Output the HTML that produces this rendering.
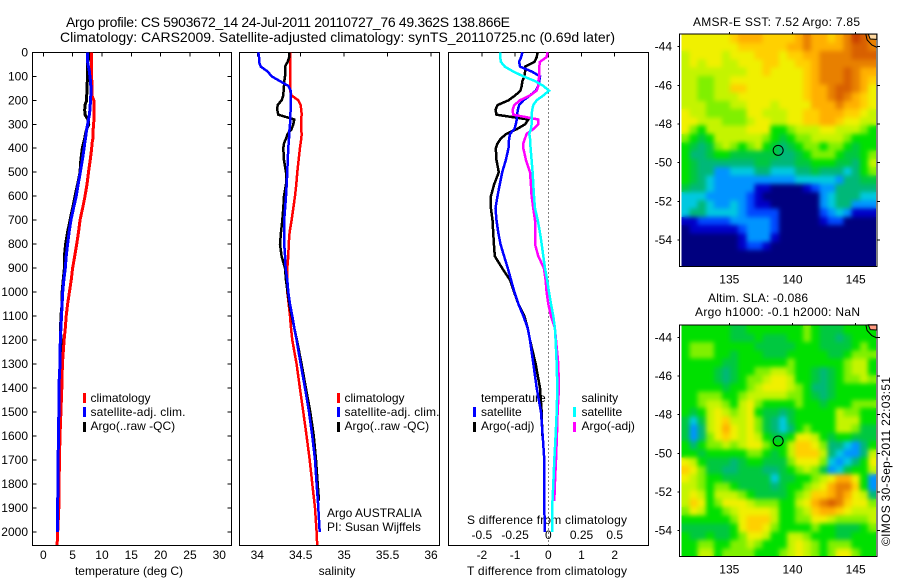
<!DOCTYPE html>
<html>
<head>
<meta charset="utf-8">
<title>Argo profile</title>
<style>
html,body{margin:0;padding:0;background:#fff;}
svg{display:block;font-family:"Liberation Sans",sans-serif;fill:#000;}
text{font-size:12px;}
</style>
</head>
<body>
<svg id="chart" width="900" height="580" viewBox="0 0 900 580" xmlns="http://www.w3.org/2000/svg">
<defs>
<filter id="soften" filterUnits="userSpaceOnUse" x="670" y="20" width="220" height="550" color-interpolation-filters="sRGB">
<feGaussianBlur in="SourceGraphic" stdDeviation="2.4" result="b"/>
<feMerge><feMergeNode in="SourceGraphic"/><feMergeNode in="b"/></feMerge>
</filter>
</defs>
<rect width="900" height="580" fill="#fff"/>
<text x="66" y="27" style="font-size:14px" textLength="444" lengthAdjust="spacing">Argo profile: CS 5903672_14 24-Jul-2011 20110727_76 49.362S 138.866E</text>
<text x="60" y="42" style="font-size:14px" textLength="555" lengthAdjust="spacing">Climatology: CARS2009. Satellite-adjusted climatology: synTS_20110725.nc (0.69d later)</text>
<text x="129" y="575" text-anchor="middle">temperature (deg C)</text>
<text x="337" y="575" text-anchor="middle">salinity</text>
<text x="467" y="575" textLength="160" lengthAdjust="spacing">T difference from climatology</text>
<text x="467" y="524" textLength="160" lengthAdjust="spacing">S difference from climatology</text>
<text x="327" y="517">Argo AUSTRALIA</text>
<text x="327" y="531">PI: Susan Wijffels</text>
<text x="693" y="26" textLength="167" lengthAdjust="spacing">AMSR-E SST: 7.52 Argo: 7.85</text>
<text x="708" y="302" textLength="100" lengthAdjust="spacing">Altim. SLA: -0.086</text>
<text x="695" y="316" textLength="165" lengthAdjust="spacing">Argo h1000: -0.1 h2000: NaN</text>
<text transform="translate(890,546) rotate(-90)" textLength="169" lengthAdjust="spacing">©IMOS 30-Sep-2011 22:03:51</text>
<g id="legend-1">
<rect x="83" y="393" width="3" height="10" fill="#f00"/>
<rect x="83" y="407" width="3" height="10" fill="#00f"/>
<rect x="83" y="422" width="3" height="10" fill="#000"/>
<text x="90.5" y="402">climatology</text>
<text x="90.5" y="416" textLength="95" lengthAdjust="spacing">satellite-adj. clim.</text>
<text x="90.5" y="430">Argo(..raw -QC)</text>
</g>
<g id="legend-2">
<rect x="337" y="393" width="3" height="10" fill="#f00"/>
<rect x="337" y="407" width="3" height="10" fill="#00f"/>
<rect x="337" y="422" width="3" height="10" fill="#000"/>
<text x="344.5" y="402">climatology</text>
<text x="344.5" y="416" textLength="95" lengthAdjust="spacing">satellite-adj. clim.</text>
<text x="344.5" y="430">Argo(..raw -QC)</text>
</g>
<g id="legend-3">
<text x="481" y="402">temperature</text>
<text x="581.5" y="402">salinity</text>
<rect x="473" y="407" width="3" height="10" fill="#00f"/>
<rect x="473" y="422" width="3" height="10" fill="#000"/>
<rect x="573" y="407" width="3" height="10" fill="#0ff"/>
<rect x="573" y="422" width="3" height="10" fill="#f0f"/>
<text x="481" y="416">satellite</text>
<text x="481" y="430">Argo(-adj)</text>
<text x="581.5" y="416">satellite</text>
<text x="581.5" y="430">Argo(-adj)</text>
</g>
</svg>
<script>
const depths = [0,20,40,60,80,100,120,140,160,180,200,220,240,260,280,300,320,340,360,380,400,450,500,550,600,650,700,750,800,850,900,950,1000,1050,1100,1150,1200,1300,1400,1500,1600,1700,1800,1870,1900,2000,2055];

const tempClim = [8.24,8.24,8.24,8.24,8.24,8.24,8.26,8.26,8.28,8.3,8.6,8.65,8.65,8.65,8.65,8.55,8.5,8.5,8.45,8.3,8.25,8.0,7.7,7.45,7.1,6.7,6.25,6.0,5.7,5.35,5.0,4.75,4.45,4.15,3.9,3.75,3.55,3.25,3.15,3.0,2.85,2.75,2.7,2.67,2.65,2.45,2.35];
const tempSat = [7.55,7.55,7.55,7.7,7.85,7.95,8.05,8.1,8.1,8.1,8.05,8.0,7.95,7.85,7.7,7.55,7.4,7.3,7.2,7.05,6.95,6.65,6.3,5.95,5.6,5.15,4.7,4.4,4.15,3.9,3.75,3.5,3.3,3.2,3.1,3.0,2.9,2.85,2.65,2.65,2.6,2.5,2.5,2.45,2.4,2.4,null];
const tempArgo = [8.0,7.85,7.55,7.5,7.5,7.5,7.5,7.45,7.45,7.4,7.4,7.1,7.05,7.1,7.6,7.75,7.4,7.2,7.05,6.85,6.65,6.4,6.25,5.85,5.4,5.0,4.55,4.15,3.8,3.6,3.6,3.4,3.2,3.2,3.0,2.95,3.0,2.9,2.9,2.9,null,null,null,null,null,null,null];

const salClim = [34.376,34.376,34.38,34.38,34.38,34.38,34.376,34.376,34.376,34.395,34.472,34.499,34.507,34.511,34.503,34.503,34.503,34.511,34.507,34.499,34.491,34.476,34.461,34.449,34.434,34.415,34.395,34.372,34.361,34.357,34.345,34.345,34.345,34.361,34.376,34.388,34.403,34.453,34.491,34.53,34.568,34.603,34.633,34.655,34.664,34.683,34.69];
const salSat = [34.012,34.02,34.02,34.04,34.12,34.165,34.26,34.357,34.384,34.388,34.384,34.384,34.384,34.38,34.376,34.376,34.372,34.365,34.365,34.36,34.357,34.35,34.345,34.338,34.33,34.32,34.31,34.31,34.31,34.32,34.326,34.345,34.357,34.376,34.403,34.426,34.453,34.5,34.549,34.595,34.633,34.664,34.683,34.698,34.702,34.718,null];
const salArgo = [34.369,34.369,34.349,34.319,34.319,34.319,34.311,34.307,34.303,34.299,34.28,34.234,34.23,34.242,34.426,34.415,34.395,34.349,34.33,34.307,34.299,34.307,34.33,34.33,34.307,34.299,34.288,34.273,34.261,34.28,34.319,34.33,34.349,34.369,34.396,34.426,34.456,34.51,34.56,34.61,34.65,34.676,34.695,34.71,null,null,null];

const diffTSat = [-0.78,-0.82,-0.88,-0.85,-0.5,-0.25,-0.27,-0.3,-0.38,-0.55,-0.75,-0.88,-0.92,-0.94,-0.95,-0.98,-1.02,-1.15,-1.18,-1.19,-1.2,-1.28,-1.39,-1.46,-1.53,-1.59,-1.56,-1.51,-1.44,-1.33,-1.22,-1.12,-1.02,-0.9,-0.75,-0.62,-0.55,-0.45,-0.35,-0.22,-0.17,-0.12,-0.12,-0.12,-0.12,-0.1,null];
const diffTArgo = [-0.32,-0.35,-0.42,-0.7,-0.7,-0.72,-0.78,-0.8,-0.84,-1.0,-1.2,-1.53,-1.59,-1.56,-0.6,-0.7,-0.95,-1.26,-1.43,-1.53,-1.58,-1.56,-1.49,-1.63,-1.73,-1.73,-1.68,-1.66,-1.64,-1.61,-1.39,-1.15,-1.03,-0.9,-0.72,-0.62,-0.55,-0.38,-0.25,-0.2,-0.18,null,null,null,null,null,null];
const diffSSat = [-0.364,-0.362,-0.357,-0.327,-0.264,-0.188,-0.1,-0.038,0.005,-0.038,-0.088,-0.113,-0.121,-0.126,-0.126,-0.126,-0.131,-0.143,-0.138,-0.136,-0.133,-0.126,-0.118,-0.113,-0.108,-0.1,-0.08,-0.063,-0.05,-0.038,-0.025,-0.008,0.005,0.02,0.038,0.05,0.055,0.063,0.068,0.063,0.055,0.045,0.038,0.032,0.03,0.03,null];
const diffSArgo = [-0.005,-0.013,-0.063,-0.068,-0.07,-0.068,-0.075,-0.075,-0.088,-0.138,-0.214,-0.256,-0.269,-0.264,-0.075,-0.075,-0.113,-0.163,-0.176,-0.188,-0.188,-0.168,-0.138,-0.131,-0.126,-0.113,-0.1,-0.1,-0.1,-0.075,-0.033,-0.02,-0.013,0,0.02,0.05,0.058,0.075,0.08,0.07,0.065,0.058,0.05,0.045,null,null,null];

const depthTicks = [0,100,200,300,400,500,600,700,800,900,1000,1100,1200,1300,1400,1500,1600,1700,1800,1900,2000];
const tempTicks = [0,5,10,15,20,25,30];
const salTicks = [34,34.5,35,35.5,36];
const salTickLabels = ["34","34.5","35","35.5","36"];
const diffTTicks = [-2,-1,0,1,2];
const diffSTicks = [-0.5,-0.25,0,0.25,0.5];
const diffSTickLabels = ["-0.5","-0.25","0","0.25","0.5"];
const lonTicks = [135,140,145];
const latTicks = [-44,-46,-48,-50,-52,-54];
const argoLon = [138.866];
const argoLat = [-49.362];
const coastLon = [145.8,145.9,146.27,146.67];
const coastLat = [-43.35,-43.65,-43.91,-44.03];
const landLon = [146.0,146.15,146.67,146.67];
const landLat = [-43.35,-43.6,-43.62,-43.35];

const sstGrid = [
[10,10,10,10,10,10,11,12,12,12,11,11,11,11,12,13,12,12,11,12,13,15,14,13],
[10,10,10,10,10,10,10,11,11,11,11,11,11,12,12,13,12,12,12,12,13,14,14,13],
[9,10,10,10,10,9,10,10,10,11,11,11,10,11,11,12,12,13,13,13,13,14,14,14],
[9,10,9,10,10,9,9,10,10,10,11,11,10,10,11,11,12,13,13,13,13,13,13,13],
[9,9,9,9,9,9,9,9,10,10,11,10,10,10,10,11,12,13,13,13,14,13,12,12],
[9,9,8,8,9,9,10,10,10,10,10,10,10,10,10,11,12,13,13,13,14,13,12,11],
[9,9,8,8,9,9,11,11,10,10,10,10,10,10,10,11,12,12,13,14,14,13,12,10],
[9,9,8,8,9,9,9,10,10,10,10,10,10,10,10,11,12,12,13,14,13,12,11,10],
[9,9,9,8,8,8,9,9,10,10,10,9,10,10,10,10,12,12,12,13,12,12,11,10],
[10,9,9,8,8,8,8,8,10,10,9,9,9,10,10,11,11,12,12,12,11,11,10,9],
[10,10,9,9,9,8,8,8,9,10,10,9,9,10,10,11,11,12,12,11,10,10,9,9],
[10,8,7,9,9,9,9,9,10,10,10,7,7,8,9,9,9,10,10,9,9,9,8,7],
[8,7,6,7,9,9,9,9,9,9,8,7,6,7,8,8,9,9,9,9,8,7,7,7],
[7,6,5,6,8,9,8,7,8,9,7,6,5,6,7,8,8,7,8,8,7,6,7,7],
[7,5,5,6,7,7,6,6,6,6,6,6,5,5,6,7,8,8,8,7,6,6,7,8],
[7,6,5,5,5,5,5,5,5,6,6,5,5,5,6,6,7,7,7,6,6,5,7,9],
[7,6,5,5,3,3,4,4,4,5,5,4,4,4,5,5,6,5,5,5,4,5,7,8],
[7,6,5,4,3,3,3,3,3,3,3,3,3,3,4,4,4,4,4,3,5,5,6,6],
[6,5,5,4,3,3,3,3,3,1,1,0,0,0,0,1,2,3,3,5,5,5,5,5],
[4,4,4,3,3,3,3,3,2,1,0,0,0,0,0,0,0,3,4,5,5,5,4,4],
[4,4,5,4,3,3,4,3,2,1,1,0,0,0,0,0,0,3,4,5,5,3,3,3],
[4,5,5,4,4,4,4,3,2,2,2,2,0,0,0,0,0,2,3,4,3,1,1,1],
[1,1,2,2,2,2,3,3,3,3,3,2,0,0,0,0,0,1,2,2,0,0,0,0],
[0,1,1,1,1,1,1,2,3,3,3,2,0,0,0,0,0,0,0,0,0,0,0,0],
[0,0,0,0,0,0,0,1,3,3,3,1,0,0,0,0,0,0,0,0,0,0,0,0],
[0,0,0,0,0,0,0,1,2,2,1,0,0,0,0,0,0,0,0,0,0,0,0,0],
[0,0,0,0,0,0,0,0,0,0,0,0,0,0,0,0,0,0,0,0,0,0,0,0],
[0,0,0,0,0,0,0,0,0,0,0,0,0,0,0,0,0,0,0,0,0,0,0,0]
];

const slaGrid = [
[7,7,7,7,7,7,6,6,7,7,7,7,7,7,7,8,7,6,6,6,7,7,7,7],
[7,7,7,7,7,7,6,6,6,7,6,6,6,7,7,8,7,6,6,5,6,7,7,7],
[7,8,8,8,7,7,7,7,7,6,6,6,6,6,7,7,7,6,6,6,6,7,8,7],
[7,8,8,8,7,7,6,7,7,7,6,6,6,7,7,7,7,7,6,6,7,8,8,8],
[7,7,7,7,7,6,6,7,7,7,7,7,7,8,7,7,7,7,7,7,8,9,9,7],
[7,7,7,7,6,5,6,7,7,8,8,9,9,8,7,7,6,5,6,7,8,9,9,7],
[7,7,7,7,6,5,6,7,8,8,9,10,10,9,7,7,6,5,6,7,8,8,9,8],
[7,7,7,7,7,6,7,7,8,9,10,10,10,9,8,7,5,5,6,7,7,7,7,7],
[7,7,8,8,8,7,7,8,9,9,9,9,9,8,8,7,6,5,6,7,7,7,7,7],
[7,7,8,9,9,8,7,9,10,8,7,7,7,7,8,7,7,6,7,7,7,8,8,8],
[7,6,7,9,10,9,8,9,10,7,6,6,5,6,7,7,7,7,7,9,8,8,7,7],
[6,4,6,9,10,11,9,9,10,8,6,5,4,6,7,7,7,7,7,9,9,9,7,7],
[6,3,5,9,10,12,10,9,10,8,6,5,4,5,7,8,7,7,7,9,9,8,6,6],
[6,3,5,8,10,11,10,9,10,9,7,6,6,7,10,10,9,7,6,7,7,6,6,6],
[7,5,7,8,8,9,8,9,10,10,8,7,7,9,11,11,10,8,5,5,4,3,5,7],
[7,7,6,7,7,7,7,7,8,8,7,6,7,9,11,11,11,9,5,4,3,3,5,9],
[10,9,7,6,6,6,5,6,7,7,6,6,6,8,10,10,10,8,4,3,4,5,7,10],
[11,10,8,6,6,5,5,6,6,6,5,5,6,7,8,9,8,6,3,4,6,7,7,9],
[10,9,8,7,7,6,6,6,6,6,6,4,6,6,7,7,8,9,10,12,12,10,7,3],
[9,9,8,7,8,8,7,6,6,6,6,5,6,7,7,8,9,10,12,13,13,11,7,3],
[9,10,9,7,9,9,9,8,7,6,6,6,6,7,8,9,11,11,12,13,12,10,9,5],
[9,11,10,7,8,10,10,10,9,8,8,8,7,7,9,10,12,13,14,13,11,10,10,8],
[8,10,9,7,7,8,9,10,10,10,10,9,7,7,8,9,11,12,12,11,10,9,9,9],
[7,7,7,7,7,7,8,10,11,11,11,9,7,7,8,8,10,10,9,8,8,8,8,9],
[6,6,6,6,6,6,7,10,11,11,10,8,7,7,7,7,8,7,7,6,6,6,7,8],
[7,6,6,7,6,6,7,8,10,10,9,7,7,9,9,8,7,7,7,6,6,7,7,7],
[7,7,8,8,7,7,8,8,9,8,7,7,7,9,10,9,8,7,8,8,8,7,7,7],
[7,7,9,9,7,8,8,8,8,7,7,7,8,9,10,9,8,7,8,10,10,8,7,7]
];

const NS = "http://www.w3.org/2000/svg";
const svg = document.getElementById("chart");
const heatColors = ["#00007f","#0000c8","#0048ff","#0094ff","#00c8e0","#00b878","#00c840","#00e000","#80f000","#c4f400","#f0f000","#ffd000","#ffb000","#e88000","#d86000","#c84000"];

function make(tag, attrs, parent){
  const el = document.createElementNS(NS, tag);
  for (const k in attrs) el.setAttribute(k, attrs[k]);
  (parent || svg).appendChild(el);
  return el;
}
function linear(d0, r0, d1, r1){
  return v => r0 + (v - d0) * (r1 - r0) / (d1 - d0);
}

const yDepth = linear(0, 52.3, 2000, 532);
const PANEL_TOP = 52.3, PANEL_BOTTOM = 545.3;

function drawProfile(values, xScale, color, width, name){
  const pts = [];
  values.forEach((v, i) => {
    if (v !== null) pts.push(xScale(v).toFixed(1) + "," + yDepth(depths[i]).toFixed(1));
  });
  const line = make("polyline", {points: pts.join(" "), fill: "none", stroke: color, "stroke-width": width, "shape-rendering": "crispEdges"});
  
  
}

function drawPanel(left, right, name, showDepthLabels){
  const g = make("rect", {x: left, y: PANEL_TOP, width: right - left, height: PANEL_BOTTOM - PANEL_TOP, fill: "none", stroke: "#000", "stroke-width": 1, "shape-rendering": "crispEdges"});
  
  
  if (showDepthLabels){
    depthTicks.forEach(d => {
      const y = yDepth(d);
      const t1 = make("line", {x1: left, x2: left + 4, y1: y, y2: y, stroke: "#000", "shape-rendering": "crispEdges"});
      
      
      const t2 = make("line", {x1: right - 4, x2: right, y1: y, y2: y, stroke: "#000", "shape-rendering": "crispEdges"});
      
      
      const lab = make("text", {x: 28, y: y + 4, "text-anchor": "end"});
      
      
      lab.textContent = d;
    });
  }
}

function drawXTicks(ticks, labels, scale, labelY, name, topTick){
  ticks.forEach((t, i) => {
    const x = scale(t);
    if (topTick){
      const tk = make("line", {x1: x, x2: x, y1: PANEL_TOP, y2: PANEL_TOP + 4, stroke: "#000", "shape-rendering": "crispEdges"});
      
      
    }
    const lab = make("text", {x: x, y: labelY, "text-anchor": "middle"});
    
    
    lab.textContent = labels[i];
  });
}

/* temperature panel */
const xTemp = linear(0, 43.3, 30, 219.3);
drawPanel(32.3, 231.3, "temperature-panel", true);
drawXTicks(tempTicks, tempTicks, xTemp, 559, "temperature", true);
drawProfile(tempArgo, xTemp, "#000", 3, "temperature-argo-line");
drawProfile(tempClim, xTemp, "#f00", 3, "temperature-climatology-line");
drawProfile(tempSat, xTemp, "#00f", 3, "temperature-satellite-line");

/* salinity panel */
const xSal = linear(34, 257.3, 36, 431);
drawPanel(239.3, 439.3, "salinity-panel", false);
drawXTicks(salTicks, salTickLabels, xSal, 559, "salinity", true);
drawProfile(salClim, xSal, "#f00", 2.5, "salinity-climatology-line");
drawProfile(salArgo, xSal, "#000", 2.5, "salinity-argo-line");
drawProfile(salSat, xSal, "#00f", 2.5, "salinity-satellite-line");

/* difference panel */
const xDiffT = linear(0, 548.3, 2, 614.7);
const xDiffS = linear(0, 548.3, 0.5, 614.7);
drawPanel(448.3, 648.3, "difference-panel", false);
drawXTicks(diffTTicks, diffTTicks, xDiffT, 559, "t-difference", true);
drawXTicks(diffSTicks, diffSTickLabels, xDiffS, 539, "s-difference", false);
const zeroLine = make("line", {x1: xDiffT(0), x2: xDiffT(0), y1: PANEL_TOP, y2: PANEL_BOTTOM, stroke: "#000", "stroke-dasharray": "1 3", "shape-rendering": "crispEdges"});


drawProfile(diffTArgo, xDiffT, "#000", 2.5, "t-difference-argo-line");
drawProfile(diffTSat, xDiffT, "#00f", 2.5, "t-difference-satellite-line");
drawProfile(diffSArgo, xDiffS, "#f0f", 2.5, "s-difference-argo-line");
drawProfile(diffSSat, xDiffS, "#0ff", 2.5, "s-difference-satellite-line");

/* maps */
function drawMap(grid, top, bottom, lat44y, name, landColor){
  const left = 680.5, right = 877;
  const x0 = left + 1, x1 = right - 1, y0 = top + 0.5, y1 = bottom;
  const xLon = linear(135, 729.3, 145, 855.7);
  const yLat = linear(-44, lat44y, -54, lat44y + 193.3);
  const nr = grid.length, nc = grid[0].length;
  const cw = (x1 - x0) / nc, ch = (y1 - y0) / nr;
  const clip = make("clipPath", {id: name + "-clip"});
  make("rect", {x: x0, y: y0, width: x1 - x0, height: y1 - y0}, clip);
  const outer = make("g", {"clip-path": "url(#" + name + "-clip)"});
  
  
  const cells = make("g", {filter: "url(#soften)"}, outer);
  grid.forEach((row, r) => {
    row.forEach((v, c) => {
      const cell = make("rect", {x: (x0 + c * cw).toFixed(2), y: (y0 + r * ch).toFixed(2), width: (cw + 0.5).toFixed(2), height: (ch + 0.5).toFixed(2), fill: heatColors[v], "shape-rendering": "crispEdges"}, cells);
      
      
    });
  });
  const land = make("polygon", {points: landLon.map((lo, i) => xLon(lo).toFixed(1) + "," + yLat(landLat[i]).toFixed(1)).join(" "), fill: landColor, stroke: "#000"});
  
  
  const coast = make("polyline", {points: coastLon.map((lo, i) => xLon(lo).toFixed(1) + "," + yLat(coastLat[i]).toFixed(1)).join(" "), fill: "none", stroke: "#000"});
  
  
  const frame = make("rect", {x: left - 1, y: top, width: right - left + 1, height: bottom - top, fill: "none", stroke: "#000", "shape-rendering": "crispEdges"});
  
  
  lonTicks.forEach(lo => {
    const x = xLon(lo);
    const t = make("line", {x1: x, x2: x, y1: top - 2, y2: top, stroke: "#000", "shape-rendering": "crispEdges"});
    
    
    const lab = make("text", {x: x, y: bottom + 17, "text-anchor": "middle"});
    
    
    lab.textContent = lo;
  });
  latTicks.forEach(la => {
    const y = yLat(la);
    const t = make("line", {x1: left - 3, x2: left - 1, y1: y, y2: y, stroke: "#000", "shape-rendering": "crispEdges"});
    
    
    const t2 = make("line", {x1: right, x2: right + 3, y1: y, y2: y, stroke: "#000", "shape-rendering": "crispEdges"});
    
    
    const lab = make("text", {x: 672, y: y + 4, "text-anchor": "end"});
    
    
    lab.textContent = la;
  });
  const marker = make("circle", {cx: xLon(argoLon[0]), cy: yLat(argoLat[0]), r: 5, fill: "none", stroke: "#000"});
  
  
}
drawMap(sstGrid, 34, 266.7, 46.7, "sst-map", "#ffd8a0");
drawMap(slaGrid, 325, 556.7, 337.3, "sla-map", "#ff9a80");
</script>
</body>
</html>
